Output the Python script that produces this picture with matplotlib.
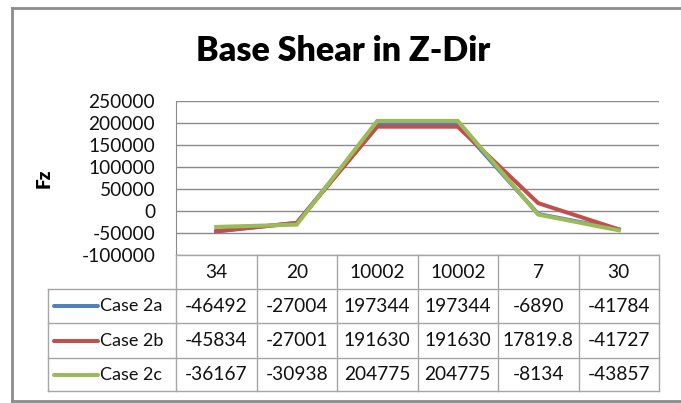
import matplotlib
matplotlib.use('Agg')
import matplotlib.pyplot as plt
from matplotlib.lines import Line2D

# chart data
categories = ['34', '20', '10002', '10002', '7', '30']
case_2a = [-46492, -27004, 197344, 197344, -6890, -41784]
case_2b = [-45834, -27001, 191630, 191630, 17819.8, -41727]
case_2c = [-36167, -30938, 204775, 204775, -8134, -43857]
series_names = ['Case 2a', 'Case 2b', 'Case 2c']
y_ticks = [-100000, -50000, 0, 50000, 100000, 150000, 200000, 250000]

colors = ['#4F81BD', '#C0504D', '#9BBB59']
W, H = 681, 403
FONT = 'Lato'
FS = 13.8


def fx(px):
    return px / W


def fy(py):
    return 1 - py / H


fig = plt.figure(figsize=(W / 100, H / 100), dpi=100)

# outer chart frame (right side runs off the picture)
for xs, ys in [([12, 12], [8, 401]), ([12, 690], [8, 8]), ([12, 690], [401, 401])]:
    fig.add_artist(Line2D([fx(x) for x in xs], [fy(y) for y in ys],
                          color='#8c8c8c', lw=2))

left, right, top, bottom = 176, 659, 101, 255
ax = fig.add_axes([fx(left), fy(bottom), fx(right - left), fy(top) - fy(bottom)])

series = [case_2a, case_2b, case_2c]
x = list(range(len(categories)))
for vals, c in zip(series, colors):
    ax.plot(x, vals, color=c, lw=2.9, solid_joinstyle='miter')

ax.set_xlim(-0.5, len(categories) - 0.5)
ax.set_ylim(-100000, 250000)
ax.set_yticks(y_ticks)
ax.set_yticklabels([str(t) for t in y_ticks], fontfamily=FONT, fontsize=FS)
ax.set_xticks([])
ax.tick_params(axis='y', length=0, pad=15, colors='#111111')
ax.grid(axis='y', color='#8a8a8a', lw=1)
ax.set_axisbelow(True)
for s in ['top', 'right', 'bottom']:
    ax.spines[s].set_visible(False)
ax.spines['left'].set_color('#8a8a8a')

ax.set_ylabel('Fz', fontfamily=FONT, fontweight='heavy', fontsize=13.5)
ax.yaxis.set_label_coords(fx(53 - left) / fx(right - left), 0.5)

fig.text(fx(343), fy(51), 'Base Shear in Z-Dir', ha='center', va='center',
         fontfamily=FONT, fontweight='heavy', fontsize=24.5)

# data table below the plot
col_w = (right - left) / len(categories)
row_y = [255, 289, 323, 358, 391]
grid_c = '#a6a6a6'
tab_left = 48


def hline(y, x0, x1):
    fig.add_artist(Line2D([fx(x0), fx(x1)], [fy(y), fy(y)], color=grid_c, lw=1))


def vline(xp, y0, y1):
    fig.add_artist(Line2D([fx(xp), fx(xp)], [fy(y0), fy(y1)], color=grid_c, lw=1))


hline(row_y[0], left, right)
for y in row_y[1:]:
    hline(y, tab_left, right)
vline(tab_left, row_y[1], row_y[-1])
for k in range(len(categories) + 1):
    vline(left + k * col_w, row_y[0], row_y[-1])

txt = dict(ha='center', va='center', fontfamily=FONT, fontsize=FS, color='#111111')
for i, cat in enumerate(categories):
    fig.text(fx(left + (i + 0.5) * col_w), fy((row_y[0] + row_y[1]) / 2 + 1), cat, **txt)

for r, (name, vals, c) in enumerate(zip(series_names, series, colors)):
    yc = (row_y[r + 1] + row_y[r + 2]) / 2
    fig.add_artist(Line2D([fx(54), fx(98)], [fy(yc), fy(yc)], color=c, lw=2.9,
                          solid_capstyle='round'))
    fig.text(fx(100), fy(yc), name, ha='left', va='center', fontfamily=FONT,
             fontsize=13, color='#111111')
    for i, v in enumerate(vals):
        fig.text(fx(left + (i + 0.5) * col_w), fy(yc), f'{v:g}', **txt)

fig.savefig('out.png', dpi=100)
